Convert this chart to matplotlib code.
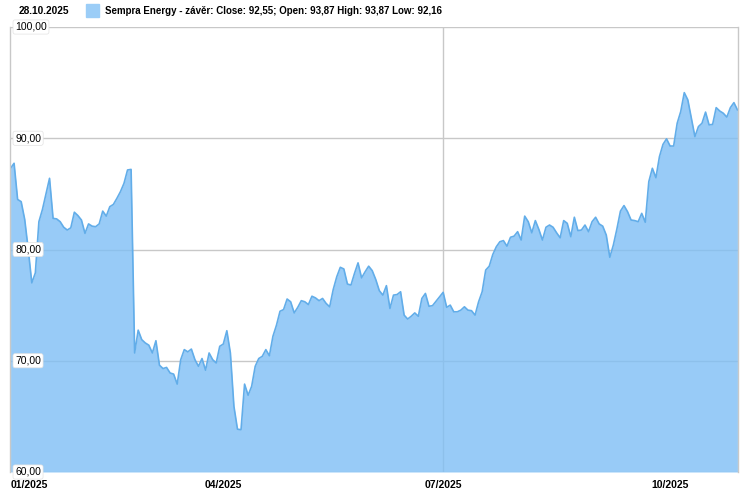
import numpy as np
import matplotlib
matplotlib.use('Agg')
import matplotlib.pyplot as plt
from matplotlib.patches import Rectangle
import matplotlib.transforms as mtransforms

plt.rcParams['font.family'] = ['Liberation Sans', 'DejaVu Sans']

# daily closes of Sempra Energy, 2.1.2025 - 28.10.2025 (one value per trading day)
close = [87.3, 87.75, 84.5, 84.3, 82.7, 80.0, 77.0, 77.9, 82.5, 83.6,
         85.0, 86.4, 82.8, 82.75, 82.5, 82.0, 81.75, 81.95, 83.35, 83.05,
         82.65, 81.45, 82.3, 82.1, 82.05, 82.3, 83.45, 83.0, 83.85, 84.05,
         84.6, 85.2, 85.95, 87.15, 87.2, 70.7, 72.75, 71.9, 71.6, 71.4,
         70.7, 71.8, 69.6, 69.3, 69.4, 68.9, 68.8, 67.9, 70.1, 71.0,
         70.8, 71.05, 70.1, 69.5, 70.2, 69.15, 70.7, 70.1, 69.8, 71.3,
         71.5, 72.7, 70.7, 65.9, 63.85, 63.8, 67.9, 66.9, 67.7, 69.5,
         70.2, 70.4, 71.0, 70.45, 72.2, 73.2, 74.45, 74.6, 75.55, 75.3,
         74.3, 74.8, 75.4, 75.3, 75.05, 75.8, 75.65, 75.4, 75.6, 75.15,
         74.85, 76.4, 77.55, 78.4, 78.25, 76.9, 76.8, 77.85, 78.8, 77.45,
         78.0, 78.5, 78.1, 77.3, 76.3, 75.9, 76.75, 74.7, 75.9, 75.95,
         76.2, 74.1, 73.75, 74.0, 74.3, 74.0, 75.6, 76.05, 74.9, 74.95,
         75.35, 75.75, 76.15, 74.8, 75.0, 74.4, 74.4, 74.55, 74.85, 74.55,
         74.5, 74.1, 75.3, 76.2, 78.15, 78.5, 79.55, 80.25, 80.7, 80.8,
         80.3, 81.1, 81.2, 81.6, 80.85, 83.0, 82.5, 81.5, 82.6, 81.8,
         80.85, 82.0, 82.2, 82.0, 81.5, 81.05, 82.6, 82.35, 81.15, 82.9,
         81.7, 81.75, 82.2, 81.6, 82.5, 82.9, 82.3, 82.1, 81.3, 79.3,
         80.4, 81.85, 83.45, 83.95, 83.4, 82.65, 82.6, 82.5, 83.25, 82.45,
         86.1, 87.3, 86.45, 88.35, 89.45, 89.95, 89.3, 89.3, 91.35, 92.4,
         94.1, 93.45, 91.8, 90.15, 91.05, 91.35, 92.35, 91.2, 91.25, 92.75,
         92.45, 92.25, 91.9, 92.75, 93.2, 92.55]

# first trading day of each labelled month
tick_idx = [0, 60, 122, 186]
tick_labels = ['01/2025', '04/2025', '07/2025', '10/2025']
y_ticks = [60, 70, 80, 90, 100]
y_labels = ['60,00', '70,00', '80,00', '90,00', '100,00']

header_date = '28.10.2025'
header_text = 'Sempra Energy - závěr: Close: 92,55; Open: 93,87 High: 93,87 Low: 92,16'

W, H = 749, 491
fig = plt.figure(figsize=(W / 100, H / 100), dpi=100)
ax = fig.add_axes([10 / W, (H - 472) / H, 728 / W, 445 / H])

x = np.arange(len(close))
grid_c = '#c8c8c8'
for v in y_ticks:
    ax.axhline(v, color=grid_c, lw=1, zorder=0)
ax.axvline(tick_idx[2], color=grid_c, lw=1, zorder=0)

ax.fill_between(x, close, 60, color='#7fbff5', alpha=0.8, lw=0, zorder=1)
ax.plot(x, close, color='#62ade9', lw=1.2, zorder=2)

ax.set_xlim(-0.15, len(close) - 1 + 0.15)
ax.set_ylim(60, 100)

for s in ['top', 'bottom']:
    ax.spines[s].set_visible(False)
for s in ['left', 'right']:
    ax.spines[s].set_color(grid_c)
    ax.spines[s].set_linewidth(1)

ax.set_yticks([])
ax.set_xticks(tick_idx, tick_labels, fontweight='bold', fontsize=7.5)
ax.tick_params(axis='x', length=0, pad=6)
ax.get_xticklabels()[0].set_ha('left')

# y labels sit inside the plot with a white box
trans = mtransforms.blended_transform_factory(ax.transAxes, ax.transData)
for v, lab in zip(y_ticks, y_labels):
    ax.text(0.007, v, lab, transform=trans, fontsize=7.5, va='center', ha='left',
            zorder=4,
            bbox=dict(boxstyle='round,pad=0.2', fc='white', ec='#e2e2e2', lw=0.5))

fig.text(19 / W, 1 - 11 / H, header_date, fontsize=7.3, fontweight='bold', va='center')
fig.patches.append(Rectangle((86 / W, 1 - 17 / H), 13 / W, 13 / H,
                             transform=fig.transFigure, color='#9bcdf7'))
fig.text(105 / W, 1 - 11 / H, header_text, fontsize=7.0, fontweight='bold', va='center')

fig.savefig('out.png', dpi=100)
